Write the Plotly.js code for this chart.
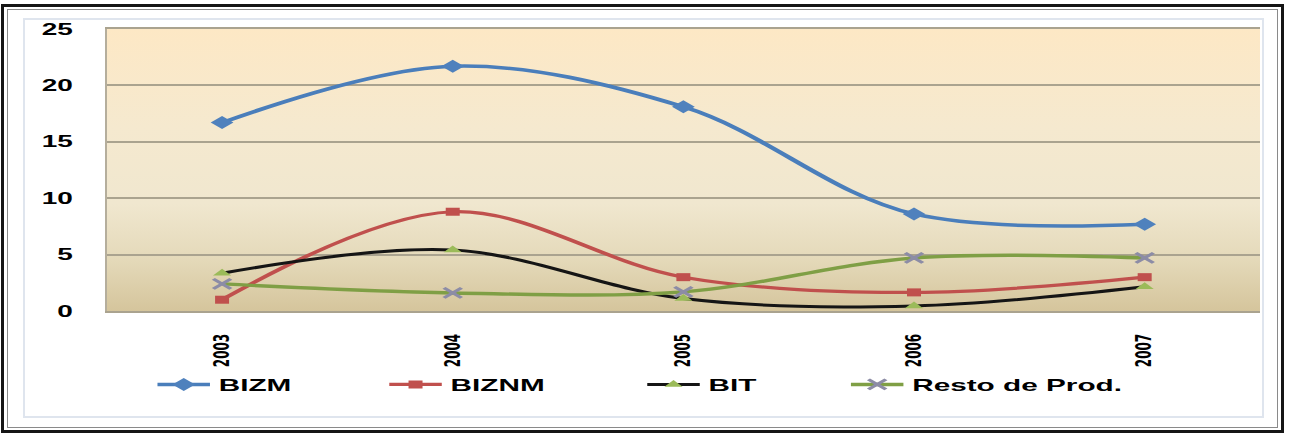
<!DOCTYPE html>
<html>
<head>
<meta charset="utf-8">
<script src="https://cdn.plot.ly/plotly-3.0.1.min.js"></script>
<style>
  html, body { margin: 0; padding: 0; background: #ffffff; overflow: hidden; }
  #page { position: relative; width: 1289px; height: 434px; overflow: hidden; background: #ffffff; }
  /* the chart is laid out narrow and widened horizontally */
  #chart { position: absolute; left: 0; top: 0; width: 737px; height: 434px;
           transform: scaleX(1.75); transform-origin: 0 0; }
  .frame { position: absolute; box-sizing: border-box; pointer-events: none; }
  #f1 { left: 1px; top: 4px; width: 1283px; height: 429px; border: 3px solid #151515; }
  #f2 { left: 7px; top: 9px; width: 1271px; height: 419px; border: 1px solid #8a8a8a; }
  #f3 { left: 23px; top: 18px; width: 1241px; height: 400px; border: 2px solid #dfe5ee; }
</style>
</head>
<body>
<div id="page">
  <div id="chart"></div>
  <div class="frame" id="f3"></div>
  <div class="frame" id="f2"></div>
  <div class="frame" id="f1"></div>
</div>
<script>
// Years on the category axis
const years = ['2003', '2004', '2005', '2006', '2007'];

// Series values per year
const bizm  = [16.7, 21.7, 18.1, 8.6, 7.7];
const biznm = [1.0, 8.8, 3.0, 1.65, 3.0];
const bit   = [3.35, 5.4, 1.1, 0.45, 2.15];
const resto = [2.4, 1.6, 1.7, 4.7, 4.7];

// Series labels
const seriesNames = ['BIZM', 'BIZNM', 'BIT', 'Resto de Prod.'];

// Y axis ticks
const yTicks = [0, 5, 10, 15, 20, 25];

const legendFont = { family: 'Liberation Sans, Arial, sans-serif', size: 17, color: '#000000', weight: 700 };

function series(values, name, legendId, lineColor, lineWidth, marker) {
  return {
    type: 'scatter',
    mode: 'lines+markers',
    x: years,
    y: values,
    name: name,
    legend: legendId,
    line: { color: lineColor, width: lineWidth, shape: 'spline', smoothing: 1 },
    marker: marker,
    hoverinfo: 'skip',
    cliponaxis: false
  };
}

const traces = [
  series(bizm, seriesNames[0], 'legend', '#4a7ebb', 3.5,
         { symbol: 'diamond', size: 10, color: '#4f81bd', line: { width: 0 } }),
  series(biznm, seriesNames[1], 'legend2', '#c0504d', 3.2,
         { symbol: 'square', size: 8, color: '#c0504d', line: { width: 0 } }),
  series(bit, seriesNames[2], 'legend3', '#151515', 3.0,
         { symbol: 'triangle-up', size: 9, color: '#9bbb59', line: { width: 0 } }),
  series(resto, seriesNames[3], 'legend4', '#7f9f45', 3.4,
         { symbol: 'x-thin-open', size: 10, color: '#8c8ca6', line: { width: 2.5, color: '#8c8ca6' } })
];

// Plot-area wash: cream at the top turning to tan at the base
const washSvg =
  '<svg xmlns="http://www.w3.org/2000/svg" width="100" height="100" preserveAspectRatio="none">' +
  '<defs><linearGradient id="g" x1="0" y1="0" x2="0" y2="1">' +
  '<stop offset="0" stop-color="#fde8c5"/>' +
  '<stop offset="0.35" stop-color="#f5e9cf"/>' +
  '<stop offset="0.62" stop-color="#f0e7cf"/>' +
  '<stop offset="0.82" stop-color="#e4d9b9"/>' +
  '<stop offset="1" stop-color="#d5c59c"/>' +
  '</linearGradient></defs><rect width="100" height="100" fill="url(#g)"/></svg>';
const washSrc = 'data:image/svg+xml;charset=utf-8,' + encodeURIComponent(washSvg);

function legendAt(xPos) {
  return {
    x: xPos, xanchor: 'left', xref: 'paper',
    y: -0.262, yanchor: 'middle', yref: 'paper',
    orientation: 'h',
    bgcolor: 'rgba(0,0,0,0)', borderwidth: 0,
    font: legendFont
  };
}

const gridColor = '#aaa38f';

const layout = {
  width: 737,
  height: 434,
  margin: { l: 60.6, r: 17, t: 29, b: 123, pad: 0 },
  paper_bgcolor: '#ffffff',
  plot_bgcolor: '#f0e7cf',
  showlegend: true,
  legend: legendAt(0.0364),
  legend2: legendAt(0.2374),
  legend3: legendAt(0.4611),
  legend4: legendAt(0.6377),
  images: [{
    source: washSrc, xref: 'paper', yref: 'paper',
    x: 0, y: 1, sizex: 1, sizey: 1, sizing: 'stretch', layer: 'below'
  }],
  xaxis: {
    type: 'category',
    categoryorder: 'array',
    categoryarray: years,
    range: [-0.5, 4.5],
    showgrid: false,
    zeroline: false,
    showline: true,
    mirror: true,
    linecolor: gridColor,
    linewidth: 2,
    ticks: '',
    tickangle: -90,
    ticklabelstandoff: 16,
    tickfont: { family: 'DejaVu Sans, sans-serif', size: 12, color: '#000000', weight: 700 },
    fixedrange: true
  },
  yaxis: {
    range: [0, 25],
    tickmode: 'array',
    tickvals: yTicks,
    ticktext: yTicks.map(String),
    showgrid: true,
    gridcolor: gridColor,
    gridwidth: 2,
    zeroline: false,
    showline: true,
    linecolor: '#b5ae9c',
    linewidth: 1.2,
    ticks: '',
    ticklabelstandoff: 15,
    tickfont: { family: 'Liberation Sans, Arial, sans-serif', size: 16, color: '#000000', weight: 700 },
    fixedrange: true
  }
};

Plotly.newPlot('chart', traces, layout, { displayModeBar: false, staticPlot: true });
</script>
</body>
</html>
